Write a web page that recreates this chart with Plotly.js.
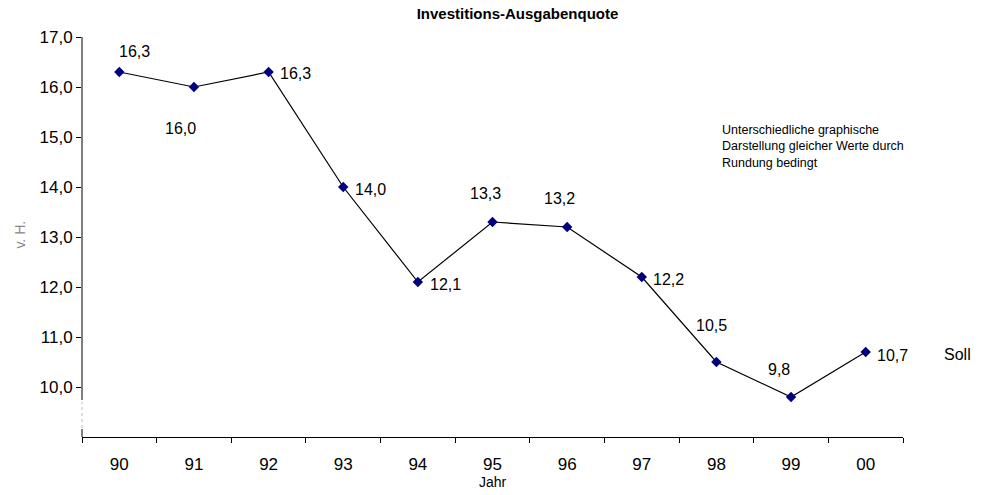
<!DOCTYPE html>
<html>
<head>
<meta charset="utf-8">
<script src="https://cdn.plot.ly/plotly-3.0.1.min.js"></script>
<style>html,body{margin:0;padding:0;background:#fff;}#chart{width:982px;height:495px;}</style>
</head>
<body>
<div id="chart"></div>
<script>
const years = ['90','91','92','93','94','95','96','97','98','99','00'];
const quote = [16.3, 16.0, 16.3, 14.0, 12.1, 13.3, 13.2, 12.2, 10.5, 9.8, 10.7];
const yTicks = [10, 11, 12, 13, 14, 15, 16, 17];

// label placement (pixel offsets from each point)
const labelShift = [[15,21],[-13,-41],[27,-1],[27,-2],[28,-2],[-7,29],[-8,29],[27,-2],[-5,37],[-12,28],[27,-3]];

const FONT = 'Liberation Sans, Arial, sans-serif';
const fmt = v => v.toFixed(1).replace('.', ',');

const annotations = years.map((y, i) => ({
  x: i, y: quote[i], xref: 'x', yref: 'y',
  text: fmt(quote[i]), showarrow: false,
  xshift: labelShift[i][0], yshift: labelShift[i][1],
  font: {family: FONT, size: 16, color: '#000'}
}));

annotations.push({
  xref: 'paper', yref: 'paper', x: 0.777, y: 0.79, xanchor: 'left', yanchor: 'top',
  align: 'left', showarrow: false,
  text: 'Unterschiedliche graphische<br>Darstellung gleicher Werte durch<br>Rundung bedingt',
  font: {family: FONT, size: 12.5, color: '#000'}
});
annotations.push({
  xref: 'paper', yref: 'y', x: 1.047, y: 10.7, xanchor: 'left', yanchor: 'middle',
  yshift: -2, showarrow: false, text: 'Soll',
  font: {family: FONT, size: 16, color: '#000'}
});
annotations.push({
  xref: 'paper', yref: 'paper', x: -0.076, y: 0.505, xanchor: 'center', yanchor: 'middle',
  showarrow: false, text: 'v. H.', textangle: -90,
  font: {family: FONT, size: 14, color: '#888'}
});

const trace = {
  x: years, y: quote, type: 'scatter', mode: 'lines+markers',
  line: {color: '#000', width: 1.2},
  marker: {symbol: 'diamond', size: 8, color: '#000080'},
  hoverinfo: 'skip'
};

const layout = {
  width: 982, height: 495,
  margin: {l: 82, r: 79, t: 37, b: 58},
  paper_bgcolor: '#fff', plot_bgcolor: '#fff',
  separators: ',.',
  showlegend: false,
  font: {family: FONT, size: 16, color: '#000'},
  title: {text: '<b>Investitions-Ausgabenquote</b>', x: 0.527, xanchor: 'center', y: 0.983, yanchor: 'top',
          font: {size: 15, family: FONT, color: '#000'}},
  xaxis: {
    type: 'category', range: [-0.5, 10.5], tickson: 'boundaries',
    ticks: 'outside', ticklen: 5, tickcolor: '#000', showline: true, linecolor: '#000', linewidth: 1,
    showgrid: false, zeroline: false, ticklabelstandoff: 12,
    tickfont: {size: 17},
    title: {text: 'Jahr', standoff: 0, font: {size: 14}}
  },
  yaxis: {
    range: [9, 17], tickvals: yTicks, tickformat: '.1f',
    ticks: 'outside', ticklen: 5, tickcolor: '#000', showline: false,
    showgrid: false, zeroline: false, tickfont: {size: 17}
  },
  shapes: [
    {type: 'line', xref: 'paper', yref: 'y', x0: 0, x1: 0, y0: 9.74, y1: 17, line: {color: '#000', width: 1}},
    {type: 'line', xref: 'paper', yref: 'y', x0: 0, x1: 0, y0: 9.18, y1: 9.7, line: {color: '#bbb', width: 1, dash: 'dot'}},
    {type: 'line', xref: 'paper', yref: 'y', x0: 0, x1: 0, y0: 9, y1: 9.16, line: {color: '#000', width: 1}}
  ],
  annotations: annotations
};

Plotly.newPlot('chart', [trace], layout, {displayModeBar: false, staticPlot: true});
</script>
</body>
</html>
